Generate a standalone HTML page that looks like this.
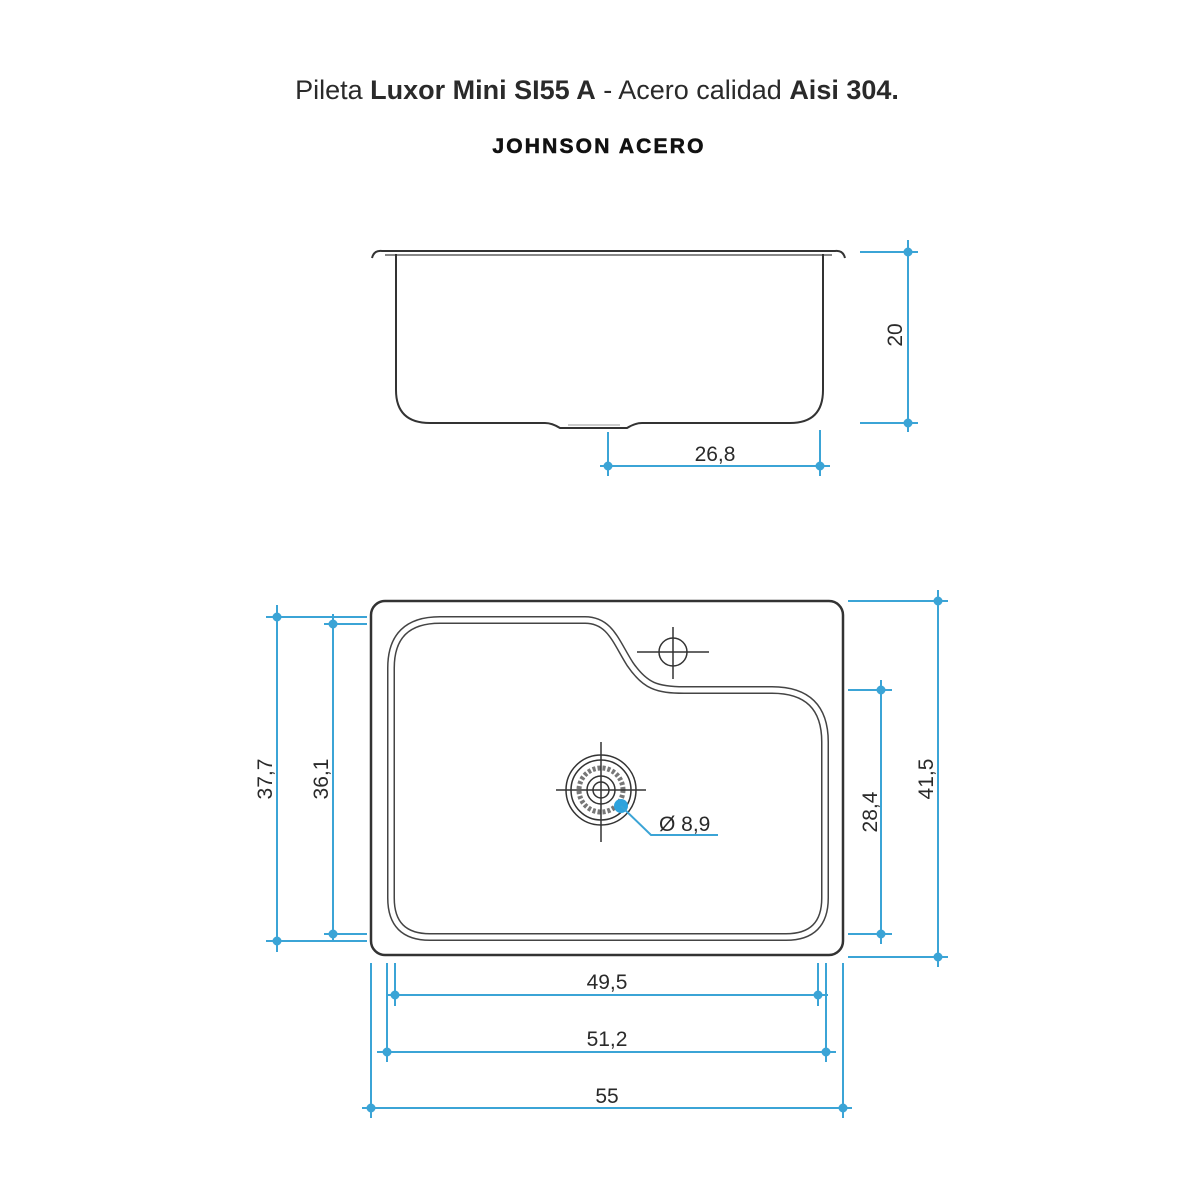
<!DOCTYPE html>
<html><head><meta charset="utf-8"><style>
html,body{margin:0;padding:0;background:#fff;width:1200px;height:1200px;overflow:hidden}
svg{display:block}
text{font-family:"Liberation Sans",sans-serif;fill:#2a2a2a}
</style></head><body>
<svg width="1200" height="1200" viewBox="0 0 1200 1200">
<text x="597" y="99" font-size="27" text-anchor="middle">Pileta <tspan font-weight="bold">Luxor Mini SI55 A</tspan> - Acero calidad <tspan font-weight="bold">Aisi 304.</tspan></text>
<text x="599" y="153" font-size="21" font-weight="900" text-anchor="middle" letter-spacing="2.2" style="fill:#111;stroke:#111;stroke-width:0.6">JOHNSON ACERO</text>

<!-- side view -->
<g fill="none" stroke="#333" stroke-width="2">
<path d="M372 258 Q374 250 382 251 L835 251 Q843 250 845 258"/>
<line x1="385" y1="255" x2="832" y2="255" stroke="#888"/>
<path d="M396 254 V390 Q396 423 430 423 H545 Q552 423 560 428 H627 Q635 423 642 423 H790 Q823 423 823 390 V254"/>
<line x1="568" y1="425" x2="620" y2="425" stroke="#999" stroke-width="1"/>
</g>
<g stroke="#3ba4d6" stroke-width="2" fill="#3ba4d6">
<line x1="908" y1="240" x2="908" y2="432"/>
<line x1="860" y1="252" x2="918" y2="252"/>
<line x1="860" y1="423" x2="918" y2="423"/>
<circle cx="908" cy="252" r="3.5"/><circle cx="908" cy="423" r="3.5"/>
<line x1="600" y1="466" x2="830" y2="466"/>
<line x1="608" y1="432" x2="608" y2="476"/>
<line x1="820" y1="430" x2="820" y2="476"/>
<circle cx="608" cy="466" r="3.5"/><circle cx="820" cy="466" r="3.5"/>
</g>
<text x="715" y="461" font-size="21" text-anchor="middle">26,8</text>
<text transform="translate(902,335) rotate(-90)" font-size="21" text-anchor="middle">20</text>

<!-- top view -->
<rect x="371" y="601" width="472" height="354" rx="14" fill="none" stroke="#333" stroke-width="2.5"/>
<path d="M440 620 H585 C610 620 616 642 630 664 C645 686 657 690 684 690 H772 Q825 690 825 742 V898 Q825 937 786 937 H430 Q391 937 391 898 V668 Q391 620 440 620 Z" fill="none" stroke="#444" stroke-width="8"/>
<path d="M440 620 H585 C610 620 616 642 630 664 C645 686 657 690 684 690 H772 Q825 690 825 742 V898 Q825 937 786 937 H430 Q391 937 391 898 V668 Q391 620 440 620 Z" fill="none" stroke="#fff" stroke-width="5"/>
<g fill="none" stroke="#333" stroke-width="1.5">
<circle cx="673" cy="652" r="14"/>
<line x1="637" y1="652" x2="709" y2="652"/><line x1="673" y1="627" x2="673" y2="679"/>
<circle cx="601" cy="790" r="35"/>
<circle cx="601" cy="790" r="30"/>
<circle cx="601" cy="790" r="22" stroke-dasharray="3 2" stroke-width="5" stroke="#777"/>
<circle cx="601" cy="790" r="14"/>
<circle cx="601" cy="790" r="8"/>
<line x1="556" y1="790" x2="646" y2="790"/><line x1="601" y1="742" x2="601" y2="842"/>
</g>
<circle cx="621" cy="806" r="7" fill="#2fa3dd"/>
<polyline points="621,806 651,835 718,835" fill="none" stroke="#3ba4d6" stroke-width="2"/>
<text x="659" y="831" font-size="21">Ø 8,9</text>

<g stroke="#3ba4d6" stroke-width="2" fill="#3ba4d6">
<line x1="277" y1="605" x2="277" y2="952"/>
<line x1="266" y1="617" x2="367" y2="617"/><line x1="266" y1="941" x2="367" y2="941"/>
<circle cx="277" cy="617" r="3.5"/><circle cx="277" cy="941" r="3.5"/>
<line x1="333" y1="614" x2="333" y2="942"/>
<line x1="324" y1="624" x2="367" y2="624"/><line x1="324" y1="934" x2="367" y2="934"/>
<circle cx="333" cy="624" r="3.5"/><circle cx="333" cy="934" r="3.5"/>
<line x1="938" y1="590" x2="938" y2="967"/>
<line x1="848" y1="601" x2="948" y2="601"/><line x1="848" y1="957" x2="948" y2="957"/>
<circle cx="938" cy="601" r="3.5"/><circle cx="938" cy="957" r="3.5"/>
<line x1="881" y1="680" x2="881" y2="944"/>
<line x1="848" y1="690" x2="892" y2="690"/><line x1="848" y1="934" x2="892" y2="934"/>
<circle cx="881" cy="690" r="3.5"/><circle cx="881" cy="934" r="3.5"/>
<line x1="371" y1="963" x2="371" y2="1118"/><line x1="843" y1="963" x2="843" y2="1118"/>
<line x1="387" y1="963" x2="387" y2="1062"/><line x1="826" y1="963" x2="826" y2="1062"/>
<line x1="395" y1="963" x2="395" y2="1006"/><line x1="818" y1="963" x2="818" y2="1006"/>
<line x1="386" y1="995" x2="828" y2="995"/>
<circle cx="395" cy="995" r="3.5"/><circle cx="818" cy="995" r="3.5"/>
<line x1="377" y1="1052" x2="836" y2="1052"/>
<circle cx="387" cy="1052" r="3.5"/><circle cx="826" cy="1052" r="3.5"/>
<line x1="362" y1="1108" x2="852" y2="1108"/>
<circle cx="371" cy="1108" r="3.5"/><circle cx="843" cy="1108" r="3.5"/>
</g>
<text x="607" y="989" font-size="21" text-anchor="middle">49,5</text>
<text x="607" y="1046" font-size="21" text-anchor="middle">51,2</text>
<text x="607" y="1103" font-size="21" text-anchor="middle">55</text>
<text transform="translate(272,779) rotate(-90)" font-size="21" text-anchor="middle">37,7</text>
<text transform="translate(328,779) rotate(-90)" font-size="21" text-anchor="middle">36,1</text>
<text transform="translate(933,779) rotate(-90)" font-size="21" text-anchor="middle">41,5</text>
<text transform="translate(877,812) rotate(-90)" font-size="21" text-anchor="middle">28,4</text>
</svg>
</body></html>
